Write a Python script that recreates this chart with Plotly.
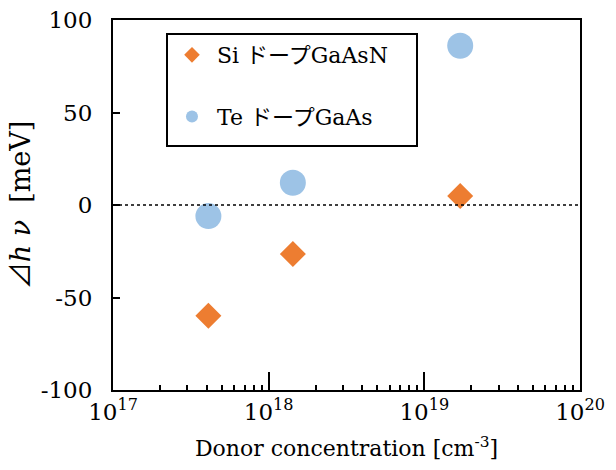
import plotly.graph_objects as go

si_x = [4.1e17, 1.43e18, 1.7e19]
si_y = [-59.8, -26.5, 4.9]
te_x = [4.1e17, 1.43e18, 1.7e19]
te_y = [-6.0, 12.0, 86.1]
x_tick_vals = [1e17, 1e18, 1e19, 1e20]
x_tick_text = ["10<sup>17</sup>", "10<sup>18</sup>", "10<sup>19</sup>", "10<sup>20</sup>"]
x_minor_vals = [float(m) * 10.0**e for e in (17, 18, 19) for m in range(2, 10)]
y_tick_vals = [-100, -50, 0, 50, 100]
y_tick_text = ["-100", "-50", "0", "50", "100"]

FONT = "'DejaVu Serif', 'Noto Sans CJK JP', serif"

fig = go.Figure()
fig.add_trace(go.Scatter(
    x=si_x, y=si_y, mode="markers", name="Si ドープGaAsN", legendgroup="a",
    marker=dict(symbol="diamond", size=20, color="#ED7D31"),
))
fig.add_trace(go.Scatter(
    x=te_x, y=te_y, mode="markers", name="Te ドープGaAs", legendgroup="b",
    marker=dict(symbol="circle", size=26, color="#9DC3E6"),
))

fig.add_shape(type="line", xref="paper", yref="y", x0=0, x1=1, y0=0, y1=0,
              line=dict(color="black", width=1.5, dash="dot"))
# legend frame
fig.add_shape(type="rect", xref="paper", yref="paper",
              x0=(167 - 113) / 467, x1=(417 - 113) / 467,
              y0=(390 - 146) / 370, y1=(390 - 34) / 370,
              line=dict(color="black", width=2), fillcolor="rgba(0,0,0,0)", layer="above")

fig.update_layout(
    width=616, height=470,
    margin=dict(l=113, r=36, t=20, b=80),
    plot_bgcolor="white", paper_bgcolor="white",
    font=dict(family=FONT, size=22, color="black"),
    showlegend=True,
    legend=dict(
        x=0.1156, y=0.962, xanchor="left", yanchor="top",
        borderwidth=0, bgcolor="rgba(0,0,0,0)",
        font=dict(size=22, family=FONT),
        tracegroupgap=30, itemsizing="constant", itemwidth=40,
    ),
    xaxis=dict(
        type="log", range=[17, 20], automargin=False,
        tickvals=x_tick_vals, ticktext=x_tick_text,
        ticks="inside", ticklen=18, tickwidth=1.5, tickcolor="black",
        minor=dict(tickvals=x_minor_vals, ticks="inside", ticklen=5, tickwidth=1.5, tickcolor="black", showgrid=False),
        showline=True, linecolor="black", linewidth=2, mirror=True,
        showgrid=False, zeroline=False,
        title=dict(text="Donor concentration [cm<sup>-3</sup>]", standoff=17,
                   font=dict(size=22, family=FONT)),
        tickfont=dict(size=23, family=FONT),
    ),
    yaxis=dict(
        range=[-100, 100], tickvals=y_tick_vals, ticktext=y_tick_text, automargin=False,
        ticks="inside", ticklen=7, tickwidth=1.5, tickcolor="black",
        showline=True, linecolor="black", linewidth=2, mirror=True,
        showgrid=False, zeroline=False,
        ticklabelstandoff=14,
        title=dict(text="⊿<i>h ν</i>  [meV]", standoff=2, font=dict(size=27, family=FONT)),
        tickfont=dict(size=23, family=FONT),
    ),
)

fig.write_html("out.html", config={"displayModeBar": False},
               post_script="document.body.style.margin='0px';")
